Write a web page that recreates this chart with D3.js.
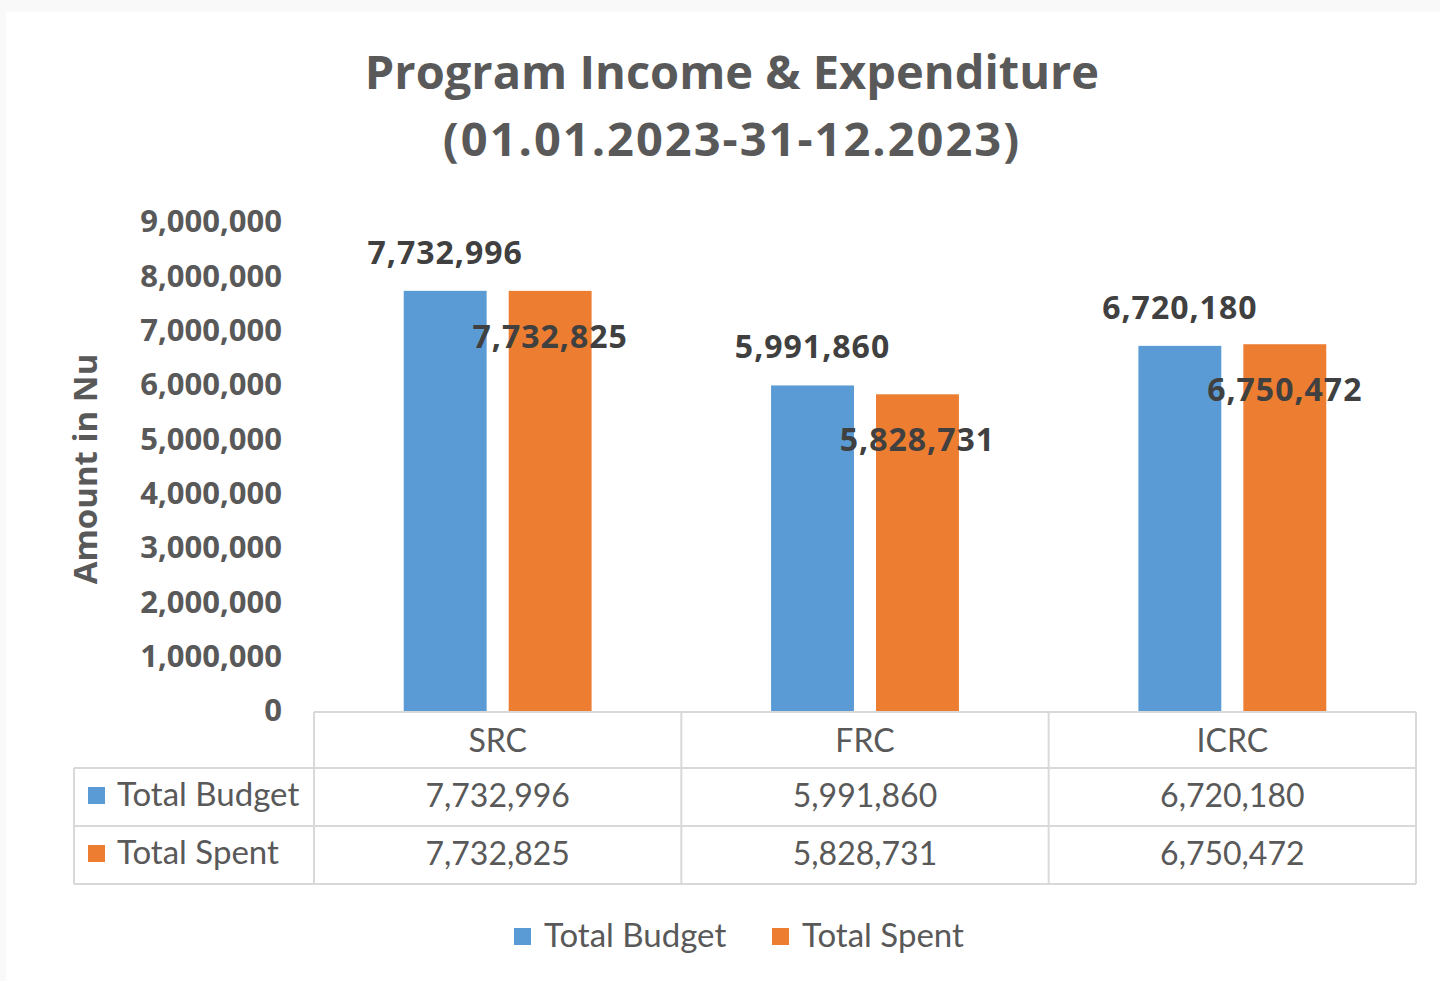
<!DOCTYPE html>
<html>
<head>
<meta charset="utf-8">
<script src="https://cdn.jsdelivr.net/npm/d3@7"></script>
<style>
  body { margin: 0; background: #f9f9f9; }
  svg { display: block; }
</style>
</head>
<body>
<div id="chart"></div>
<script>
// data
var categories = ["SRC", "FRC", "ICRC"];
var seriesNames = ["Total Budget", "Total Spent"];
var totalBudget = [7732996, 5991860, 6720180];
var totalSpent = [7732825, 5828731, 6750472];
var yTicks = [0, 1000000, 2000000, 3000000, 4000000, 5000000, 6000000, 7000000, 8000000, 9000000];
var seriesColors = ["#5b9bd5", "#ed7d31"];

var W = 1440, H = 981;
var fmt = d3.format(",");
var textGrey = "#595959";

var svg = d3.select("#chart")
  .append("svg")
  .attr("width", W)
  .attr("height", H);

// white card
svg.append("rect")
  .attr("x", 6).attr("y", 12)
  .attr("width", W - 6).attr("height", H - 12)
  .style("fill", "#ffffff");

// title
var title = svg.append("text")
  .attr("x", 732)
  .attr("text-anchor", "middle")
  .style("font-family", "Open Sans")
  .style("font-weight", "bold")
  .style("font-size", "47px")
  .style("fill", textGrey);
title.append("tspan").attr("x", 732).attr("y", 89).text("Program Income & Expenditure");
title.append("tspan").attr("x", 732).attr("y", 156)
  .style("letter-spacing", "2px")
  .text("(01.01.2023-31-12.2023)");

// scales
var x0 = d3.scaleBand()
  .domain(categories)
  .range([314, 1416]);

var x1 = d3.scaleBand()
  .domain(seriesNames)
  .range([0, x0.bandwidth()])
  .paddingInner(0.21)
  .paddingOuter(0.855);

var y = d3.scaleLinear()
  .domain([0, 9000000])
  .range([711, 222]);

// y axis
var yAxis = svg.append("g")
  .attr("transform", "translate(314,0)")
  .call(d3.axisLeft(y).tickValues(yTicks).tickSize(0).tickPadding(32).tickFormat(fmt));
yAxis.select(".domain").remove();
yAxis.selectAll("text")
  .style("font-family", "Open Sans")
  .style("font-weight", "bold")
  .style("font-size", "31px")
  .style("fill", textGrey);

svg.append("text")
  .attr("transform", "translate(97,469) rotate(-90)")
  .attr("text-anchor", "middle")
  .style("font-family", "Open Sans")
  .style("font-weight", "bold")
  .style("font-size", "33px")
  .style("fill", textGrey)
  .text("Amount in Nu");

// bars
var rows = categories.map(function(c, i) {
  return {cat: c, values: [
    {name: seriesNames[0], value: totalBudget[i], s: 0},
    {name: seriesNames[1], value: totalSpent[i], s: 1}
  ]};
});

var groups = svg.selectAll(".cat")
  .data(rows)
  .enter().append("g")
  .attr("class", "cat")
  .attr("transform", function(d) { return "translate(" + x0(d.cat) + ",0)"; });

groups.selectAll("rect")
  .data(function(d) { return d.values; })
  .enter().append("rect")
  .attr("x", function(d) { return x1(d.name); })
  .attr("y", function(d) { return y(d.value); })
  .attr("width", x1.bandwidth())
  .attr("height", function(d) { return y(0) - y(d.value); })
  .style("fill", function(d) { return seriesColors[d.s]; });

// data labels: budget above, spent inside the top
groups.selectAll(".lbl")
  .data(function(d) { return d.values; })
  .enter().append("text")
  .attr("class", "lbl")
  .attr("x", function(d) { return x1(d.name) + x1.bandwidth() / 2; })
  .attr("y", function(d) { return d.s === 0 ? y(d.value) - 27 : y(d.value) + 57; })
  .attr("text-anchor", "middle")
  .style("font-family", "Open Sans")
  .style("font-weight", "bold")
  .style("font-size", "32px")
  .style("letter-spacing", "1px")
  .style("fill", "#404040")
  .text(function(d) { return fmt(d.value); });

// data table
var tableTop = 712, headerBottom = 768, rowH = 58, legendLeft = 74;
var tableRight = x0.range()[1];
var lineColor = "#d9d9d9";
var tbl = svg.append("g");

function hline(x1p, x2p, yp) {
  tbl.append("line")
    .attr("x1", x1p).attr("x2", x2p).attr("y1", yp).attr("y2", yp)
    .style("stroke", lineColor).style("stroke-width", 2);
}
function vline(xp, y1p, y2p) {
  tbl.append("line")
    .attr("x1", xp).attr("x2", xp).attr("y1", y1p).attr("y2", y2p)
    .style("stroke", lineColor).style("stroke-width", 2);
}

var tableBottom = headerBottom + rowH * seriesNames.length;
hline(314, tableRight, tableTop);
seriesNames.forEach(function(s, i) {
  hline(legendLeft, tableRight, headerBottom + rowH * i);
});
hline(legendLeft, tableRight, tableBottom);
vline(legendLeft, headerBottom, tableBottom);
categories.forEach(function(c) { vline(x0(c), tableTop, tableBottom); });
vline(tableRight, tableTop, tableBottom);

var cellFont = function(sel, size) {
  return sel.style("font-family", "Lato")
    .style("font-size", (size || 33) + "px")
    .style("fill", textGrey);
};

categories.forEach(function(c) {
  cellFont(tbl.append("text"), 32)
    .attr("x", x0(c) + x0.bandwidth() / 2)
    .attr("y", 752)
    .attr("text-anchor", "middle")
    .text(c);
});

var seriesData = [totalBudget, totalSpent];
seriesNames.forEach(function(s, i) {
  var rowY = headerBottom + rowH * i;
  tbl.append("rect")
    .attr("x", 88).attr("y", rowY + 19)
    .attr("width", 17).attr("height", 17)
    .style("fill", seriesColors[i]);
  cellFont(tbl.append("text"))
    .attr("x", 117)
    .attr("y", rowY + 38)
    .text(s);
  categories.forEach(function(c, j) {
    cellFont(tbl.append("text"), 32)
      .attr("x", x0(c) + x0.bandwidth() / 2)
      .attr("y", rowY + 39)
      .attr("text-anchor", "middle")
      .text(fmt(seriesData[i][j]));
  });
});

// legend
var legend = svg.append("g");
var legendX = [514, 772];
seriesNames.forEach(function(s, i) {
  legend.append("rect")
    .attr("x", legendX[i]).attr("y", 928)
    .attr("width", 17).attr("height", 17)
    .style("fill", seriesColors[i]);
  cellFont(legend.append("text"))
    .attr("x", legendX[i] + 30)
    .attr("y", 947)
    .text(s);
});
</script>
</body>
</html>
